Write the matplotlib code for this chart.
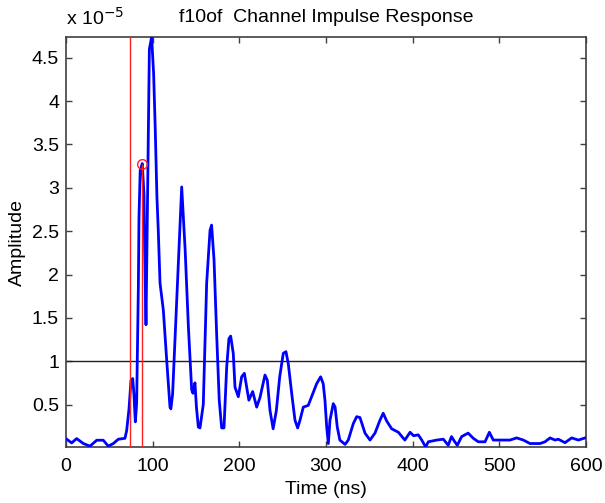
import matplotlib
matplotlib.use("Agg")
import matplotlib.pyplot as plt
import numpy as np

plt.rcParams['font.family'] = ['Liberation Sans', 'DejaVu Sans']

# Channel impulse response (time in ns, amplitude in units of 1e-5)
time_ns = [0.8, 6.5, 12.3, 20, 27.7, 35.4, 43, 48.8, 54.6, 60.4, 68, 70, 72.7, 75, 77, 78.3,
           80, 81.5, 83.5, 84.2, 85.6, 88, 90, 90.8, 92.3, 95, 96.2, 98.8, 101.1, 103, 104.9,
           106.5, 108.5, 112.3, 116.2, 120, 121, 123, 127.7, 133.5, 137.5, 141.2, 145, 146.5,
           148.8, 150.5, 152.7, 154.6, 158.4, 162.3, 166.2, 168, 170.8, 173.8, 176.8, 179.6,
           182.3, 185.4, 188, 190, 193, 195, 198.8, 202.7, 205.8, 208.5, 211, 215.4, 220,
           223.8, 229.6, 232.3, 235.4, 239, 242.7, 246.6, 250.7, 253.8, 256.5, 260.4, 264.2,
           267.3, 270, 273.8, 279.5, 283.4, 289.2, 293.8, 296.8, 298.8, 300.8, 302.7, 304.6,
           308.4, 310.5, 313, 316, 322, 325.7, 331.5, 335.4, 339.2, 345, 350.8, 356.5, 362.3,
           366, 370, 375.8, 383.5, 391, 397, 401, 406.5, 410.5, 415, 418, 427.7, 435.4, 441,
           444.8, 448.6, 451.5, 456.5, 464, 470, 475.8, 483.5, 488.5, 493, 500.8, 512.3, 520,
           527.7, 535.4, 547, 552.7, 558.5, 564.2, 568, 575.8, 583.5, 591.2, 599]
amplitude_e5 = [0.10, 0.057, 0.107, 0.05, 0.02, 0.088, 0.088, 0.02, 0.05, 0.10, 0.11, 0.20,
                0.45, 0.78, 0.80, 0.63, 0.30, 0.51, 1.86, 2.65, 3.20, 3.28, 2.92, 2.28, 1.42,
                3.67, 4.60, 4.74, 4.32, 3.67, 2.90, 2.50, 1.90, 1.59, 1.01, 0.47, 0.45, 0.62,
                1.70, 3.01, 2.28, 1.40, 0.67, 0.63, 0.75, 0.47, 0.24, 0.23, 0.50, 1.90, 2.51,
                2.57, 2.17, 1.32, 0.55, 0.23, 0.23, 0.93, 1.26, 1.29, 1.09, 0.70, 0.59, 0.82,
                0.86, 0.70, 0.55, 0.65, 0.47, 0.58, 0.84, 0.78, 0.43, 0.22, 0.43, 0.82, 1.09,
                1.11, 0.97, 0.63, 0.32, 0.23, 0.32, 0.47, 0.49, 0.59, 0.74, 0.82, 0.74, 0.55,
                0.24, 0.05, 0.32, 0.51, 0.47, 0.24, 0.09, 0.04, 0.09, 0.28, 0.36, 0.35, 0.17,
                0.09, 0.17, 0.32, 0.40, 0.31, 0.22, 0.18, 0.09, 0.18, 0.14, 0.15, 0.09, 0.01,
                0.07, 0.09, 0.10, 0.03, 0.13, 0.07, 0.03, 0.13, 0.17, 0.11, 0.07, 0.07, 0.18,
                0.09, 0.09, 0.09, 0.115, 0.09, 0.05, 0.05, 0.07, 0.115, 0.09, 0.10, 0.06,
                0.115, 0.09, 0.115]

threshold_e5 = 1.0          # horizontal threshold level
first_arrival_ns = 73.5     # first threshold crossing marker
first_peak_ns = 88.0        # first detected peak
first_peak_e5 = 3.28

x_ticks = [0, 100, 200, 300, 400, 500, 600]
y_ticks = [0.5, 1, 1.5, 2, 2.5, 3, 3.5, 4, 4.5]
y_tick_labels = ['0.5', '1', '1.5', '2', '2.5', '3', '3.5', '4', '4.5']

fig = plt.figure(figsize=(6.05, 5.03), dpi=100)
ax = fig.add_axes([66 / 605, 1 - 447 / 503, 520 / 605, 410 / 503])

ax.plot(time_ns, amplitude_e5, color='#0000ff', lw=2.0, zorder=3)
ax.axhline(threshold_e5, color='#202020', lw=1.0, zorder=2)
ax.axvline(first_arrival_ns, color='#ff2020', lw=1.0, zorder=4)
ax.vlines(first_peak_ns, 0, first_peak_e5, color='#ff2020', lw=1.0, zorder=4)
ax.plot([first_peak_ns], [first_peak_e5], 'o', mfc='none', mec='#ff2020', ms=7, mew=1.0, zorder=5)

ax.set_xlim(0, 600)
ax.set_ylim(min(amplitude_e5), max(amplitude_e5))
ax.set_xticks(x_ticks)
ax.set_yticks(y_ticks)
ax.set_yticklabels(y_tick_labels)

ax.tick_params(direction='in', length=4, width=1.0, colors='#404040', labelcolor='black',
               labelsize=14, top=True, right=True)
ax.tick_params(axis='x', pad=8)
ax.tick_params(axis='y', pad=5)
for s in ax.spines.values():
    s.set_color('#404040')
    s.set_linewidth(1.2)

ax.set_title('f10of  Channel Impulse Response', fontsize=14, pad=11)
ax.set_xlabel('Time (ns)', fontsize=14, labelpad=4)
ax.set_ylabel('Amplitude', fontsize=14, labelpad=4)
ax.text(0.0, 1.02, r'x 10$^{-5}$', transform=ax.transAxes, fontsize=14,
        ha='left', va='bottom')

fig.savefig('out.png', dpi=100)
